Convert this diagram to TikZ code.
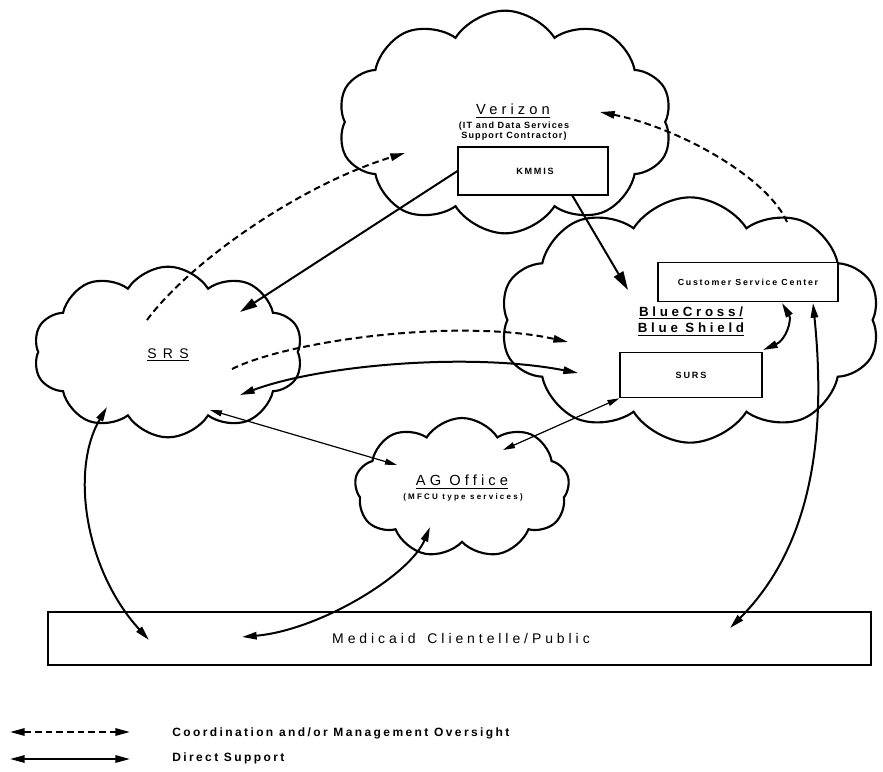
\documentclass[tikz,border=0pt]{standalone}
\usepackage{fontspec}
\setmainfont{Liberation Sans}
\newfontfamily\lsbig[LetterSpace=28]{Liberation Sans}
\newfontfamily\lsmid[LetterSpace=20]{Liberation Sans}
\newfontfamily\lssmall[LetterSpace=12]{Liberation Sans}
\newfontfamily\lswide[LetterSpace=45]{Liberation Sans}
\usetikzlibrary{shapes.symbols,arrows.meta}
\tikzset{
  cloudsh/.style={cloud, cloud puffs=10, cloud puff arc=115, cloud ignores aspect, draw, line width=1.6pt, inner sep=0pt},
  boxsh/.style={draw, line width=0.8pt, inner sep=0pt, fill=white},
  lbl/.style={inner sep=0pt, align=center},
  dsh/.style={line width=1.5pt, dash pattern=on 5pt off 3pt},
  thick2/.style={line width=1.5pt},
  thin2/.style={line width=0.9pt},
  headone/.style={-{Triangle[length=11pt,width=5.5pt]}},
  headtwo/.style={{Triangle[length=11pt,width=5.5pt]}-{Triangle[length=11pt,width=5.5pt]}},
  headthin/.style={{Triangle[length=9pt,width=4.5pt]}-{Triangle[length=9pt,width=4.5pt]}},
  headbig/.style={-{Triangle[length=14pt,width=8pt]}},
}
\begin{document}
\begin{tikzpicture}[x=0.75pt,y=-0.75pt]
\useasboundingbox (0,0) rectangle (883,772);
% clouds
\node[cloudsh, minimum width=251pt, minimum height=167pt] (vz) at (505,122) {};
\node[cloudsh, minimum width=285pt, minimum height=184pt] (bc) at (690,320) {};
\node[cloudsh, minimum width=202pt, minimum height=128pt] (srs) at (168,352) {};
\node[cloudsh, minimum width=161pt, minimum height=105pt, cloud puffs=9] (ag) at (462,488) {};
% boxes
\node[boxsh, minimum width=112.5pt, minimum height=36pt] (kmmis) at (533,171) {};
\node[boxsh, minimum width=135pt, minimum height=29pt] (csc) at (748,282) {};
\node[boxsh, minimum width=106.5pt, minimum height=34pt] (surs) at (691,375) {};
\node[boxsh, line width=1.4pt, minimum width=617pt, minimum height=40pt] (med) at (459.5,638.5) {};
% labels
\node[lbl, font={\fontsize{11pt}{13pt}\lsbig}] (vzt) at (513,111) {\underline{Verizon}};
\node[lbl, font={\fontsize{6.8pt}{7.6pt}\lssmall\bfseries}] (vzs) at (514,131) {(IT and Data Services\\Support Contractor)};
\node[lbl, font={\fontsize{6.8pt}{8pt}\lsmid\bfseries}] (kmt) at (535,171) {KMMIS};
\node[lbl, font={\fontsize{6.6pt}{8pt}\lsmid\bfseries}] (csct) at (748,282) {Customer Service Center};
\node[lbl, font={\fontsize{6.8pt}{8pt}\lsmid\bfseries}] (surst) at (691,375) {SURS};
\node[lbl, font={\fontsize{10pt}{12.5pt}\lsbig\bfseries}] (bct) at (691,321) {\underline{BlueCross/}\\\underline{Blue Shield}};
\node[lbl, font={\fontsize{10.5pt}{12pt}\lswide}] (srst) at (168,355) {\underline{SRS}};
\node[lbl, font={\fontsize{11pt}{13pt}\lsbig}] (agt) at (462,482) {\underline{AG Office}};
\node[lbl, font={\fontsize{6pt}{7pt}\lsbig\bfseries}] (ags) at (463,497) {(MFCU type services)};
\node[lbl, font={\fontsize{10.5pt}{12pt}\lsbig}] (medt) at (461,638) {Medicaid\hspace{3pt} Clientelle/Public};
\node[lbl, anchor=west, font={\fontsize{9pt}{11pt}\lsmid\bfseries}] (leg1t) at (172,733) {Coordination and/or Management Oversight};
\node[lbl, anchor=west, font={\fontsize{9pt}{11pt}\lsmid\bfseries}] (leg2t) at (172,758) {Direct Support};
% free ends
\coordinate (srsA) at (147,320);
\coordinate (vzA) at (405,153);
\coordinate (bcA) at (787,222);
\coordinate (vzB) at (600,112);
\coordinate (srsB) at (240,312);
\coordinate (bcB) at (628,290);
\coordinate (kmB) at (572,195);
\coordinate (srsC) at (232,369);
\coordinate (bcC) at (568,342);
\coordinate (srsD) at (240,395);
\coordinate (bcD) at (578,373);
\coordinate (srsE) at (210,410);
\coordinate (agE) at (397,465);
\coordinate (agF) at (503,450);
\coordinate (cscG) at (782,303);
\coordinate (sursG) at (763,350);
\coordinate (cscH) at (813,303);
\coordinate (medH) at (730,628);
\coordinate (srsI) at (107,407);
\coordinate (medI) at (149,640);
\coordinate (agJ) at (430,527);
\coordinate (medJ) at (242,637);
\coordinate (leg1a) at (10,732);
\coordinate (leg1b) at (130,732);
\coordinate (leg2a) at (10,759);
\coordinate (leg2b) at (130,759);
% connectors
\draw[dsh, headone] (srsA) .. controls (190,262) and (300,185) .. (vzA);
\draw[dsh, headone] (bcA) .. controls (768,178) and (680,128) .. (vzB);
\draw[thick2, -{Triangle[length=13pt,width=7pt]}] (kmmis.west) -- (srsB);
\draw[thick2, headbig] (kmB) -- (bcB);
\draw[dsh, headone] (srsC) .. controls (290,340) and (460,318) .. (bcC);
\draw[thick2, headtwo] (srsD) .. controls (320,365) and (470,352) .. (bcD);
\draw[thin2, headthin] (srsE) -- (agE);
\draw[thin2, headthin] (agF) -- (surs.south west);
\draw[thick2, headtwo] (cscG) .. controls (792,320) and (786,340) .. (sursG);
\draw[thick2, headtwo] (cscH) .. controls (825,420) and (818,540) .. (medH);
\draw[thick2, headtwo] (srsI) .. controls (70,470) and (85,570) .. (medI);
\draw[thick2, headtwo] (agJ) .. controls (410,575) and (320,630) .. (medJ);
% legend
\draw[dsh, headtwo] (leg1a) -- (leg1b);
\draw[thick2, headtwo] (leg2a) -- (leg2b);
\end{tikzpicture}
\end{document}
